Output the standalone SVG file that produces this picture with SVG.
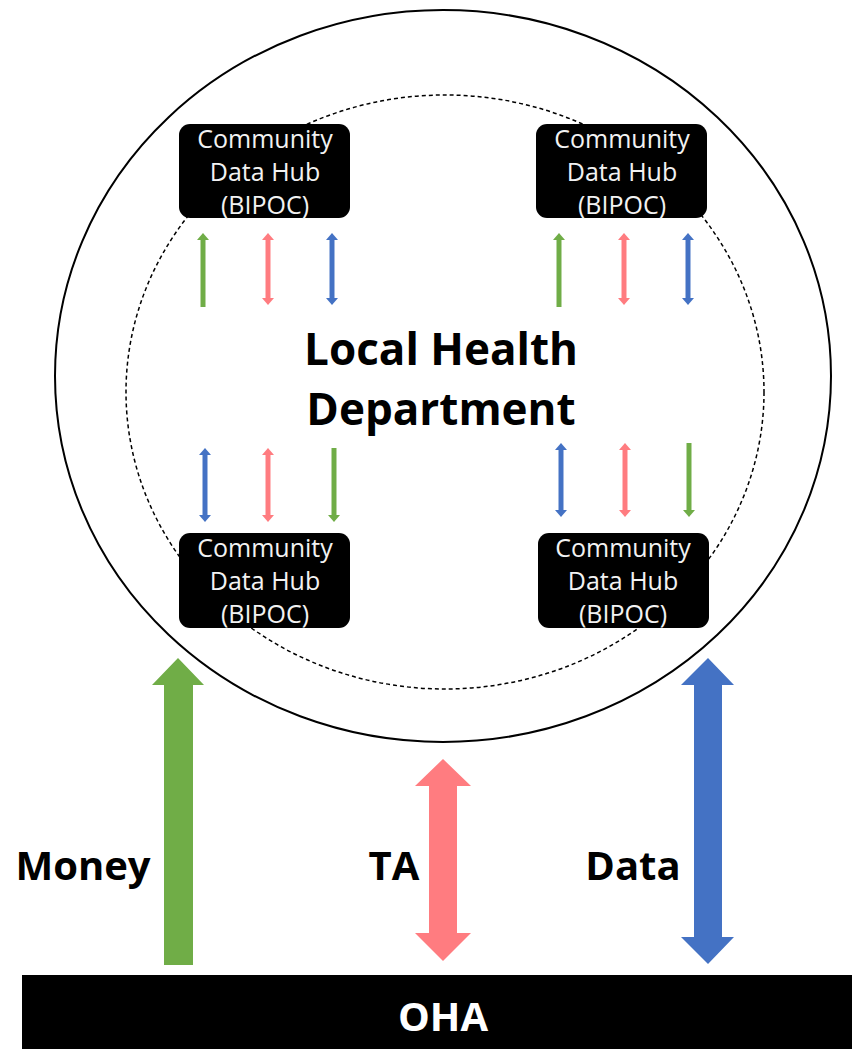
<svg xmlns="http://www.w3.org/2000/svg" width="852" height="1049" viewBox="0 0 852 1049">
<style>
.hub rect{fill:#000;}
.hub text{fill:#f2f2f2;font-family:"Open Sans","Liberation Sans",sans-serif;font-size:25px;text-anchor:middle;}
.lbl{fill:#000;font-family:"Open Sans","Liberation Sans",sans-serif;font-weight:bold;text-anchor:middle;}
.sg{stroke:#70ad47;stroke-width:5;fill:none;}
.sp{stroke:#ff7c80;stroke-width:5;fill:none;}
.sb{stroke:#4472c4;stroke-width:5;fill:none;}
</style>
<defs>
<marker id="mg" viewBox="0 0 7 12" refX="0" refY="6" markerWidth="7" markerHeight="12" markerUnits="userSpaceOnUse" orient="auto-start-reverse"><path d="M0,0 L7,6 L0,12 z" fill="#70ad47"/></marker>
<marker id="mp" viewBox="0 0 7 12" refX="0" refY="6" markerWidth="7" markerHeight="12" markerUnits="userSpaceOnUse" orient="auto-start-reverse"><path d="M0,0 L7,6 L0,12 z" fill="#ff7c80"/></marker>
<marker id="mb" viewBox="0 0 7 12" refX="0" refY="6" markerWidth="7" markerHeight="12" markerUnits="userSpaceOnUse" orient="auto-start-reverse"><path d="M0,0 L7,6 L0,12 z" fill="#4472c4"/></marker>
</defs>
<rect width="852" height="1049" fill="#fff"/>
<g id="lhd-outer">
<ellipse cx="443" cy="376" rx="388" ry="366" fill="none" stroke="#000" stroke-width="2"/>
</g>
<g id="lhd-inner">
<ellipse cx="445" cy="392" rx="319" ry="297" fill="none" stroke="#000" stroke-width="1.5" stroke-dasharray="4 3"/>
<text class="lbl" x="441" y="365" font-size="44">Local Health</text>
<text class="lbl" x="441" y="425" font-size="44">Department</text>
</g>
<g id="hub-tl" class="hub">
<rect x="179" y="124" width="171" height="94" rx="11"/>
<text x="265" y="148">Community</text>
<text x="265" y="181">Data Hub</text>
<text x="265" y="214">(BIPOC)</text>
</g>
<g id="hub-tr" class="hub">
<rect x="536" y="124" width="171" height="94" rx="11"/>
<text x="622" y="148">Community</text>
<text x="622" y="181">Data Hub</text>
<text x="622" y="214">(BIPOC)</text>
</g>
<g id="hub-bl" class="hub">
<rect x="179" y="533" width="171" height="95" rx="11"/>
<text x="265" y="557">Community</text>
<text x="265" y="590">Data Hub</text>
<text x="265" y="623">(BIPOC)</text>
</g>
<g id="hub-br" class="hub">
<rect x="538" y="533" width="171" height="95" rx="11"/>
<text x="623" y="557">Community</text>
<text x="623" y="590">Data Hub</text>
<text x="623" y="623">(BIPOC)</text>
</g>
<g id="oha">
<rect x="22" y="975" width="830" height="74" fill="#000"/>
<text class="lbl" x="443" y="1031" font-size="40" style="fill:#fff">OHA</text>
</g>
<g id="connectors">
<line class="sg" x1="203" y1="307" x2="203" y2="240" marker-end="url(#mg)"/>
<line class="sp" x1="268" y1="240" x2="268" y2="298" marker-start="url(#mp)" marker-end="url(#mp)"/>
<line class="sb" x1="332" y1="240" x2="332" y2="298" marker-start="url(#mb)" marker-end="url(#mb)"/>
<line class="sg" x1="559" y1="307" x2="559" y2="240" marker-end="url(#mg)"/>
<line class="sp" x1="624" y1="240" x2="624" y2="298" marker-start="url(#mp)" marker-end="url(#mp)"/>
<line class="sb" x1="688" y1="240" x2="688" y2="298" marker-start="url(#mb)" marker-end="url(#mb)"/>
<line class="sb" x1="205" y1="455" x2="205" y2="515" marker-start="url(#mb)" marker-end="url(#mb)"/>
<line class="sp" x1="268" y1="455" x2="268" y2="515" marker-start="url(#mp)" marker-end="url(#mp)"/>
<line class="sg" x1="334" y1="448" x2="334" y2="515" marker-end="url(#mg)"/>
<line class="sb" x1="561" y1="450" x2="561" y2="510" marker-start="url(#mb)" marker-end="url(#mb)"/>
<line class="sp" x1="625" y1="450" x2="625" y2="510" marker-start="url(#mp)" marker-end="url(#mp)"/>
<line class="sg" x1="689" y1="443" x2="689" y2="510" marker-end="url(#mg)"/>
<polygon points="178,658 204,685 193,685 193,965 164,965 164,685 152,685" fill="#70ad47"/>
<polygon points="443,759 471,786 457,786 457,933 471,933 443,961 415,933 429,933 429,786 415,786" fill="#ff7c80"/>
<polygon points="708,658 734,685 722,685 722,937 734,937 708,964 681,937 694,937 694,685 681,685" fill="#4472c4"/>
<text class="lbl" x="83" y="880" font-size="40">Money</text>
<text class="lbl" x="394" y="880" font-size="40">TA</text>
<text class="lbl" x="633" y="880" font-size="40">Data</text>
</g>
</svg>
